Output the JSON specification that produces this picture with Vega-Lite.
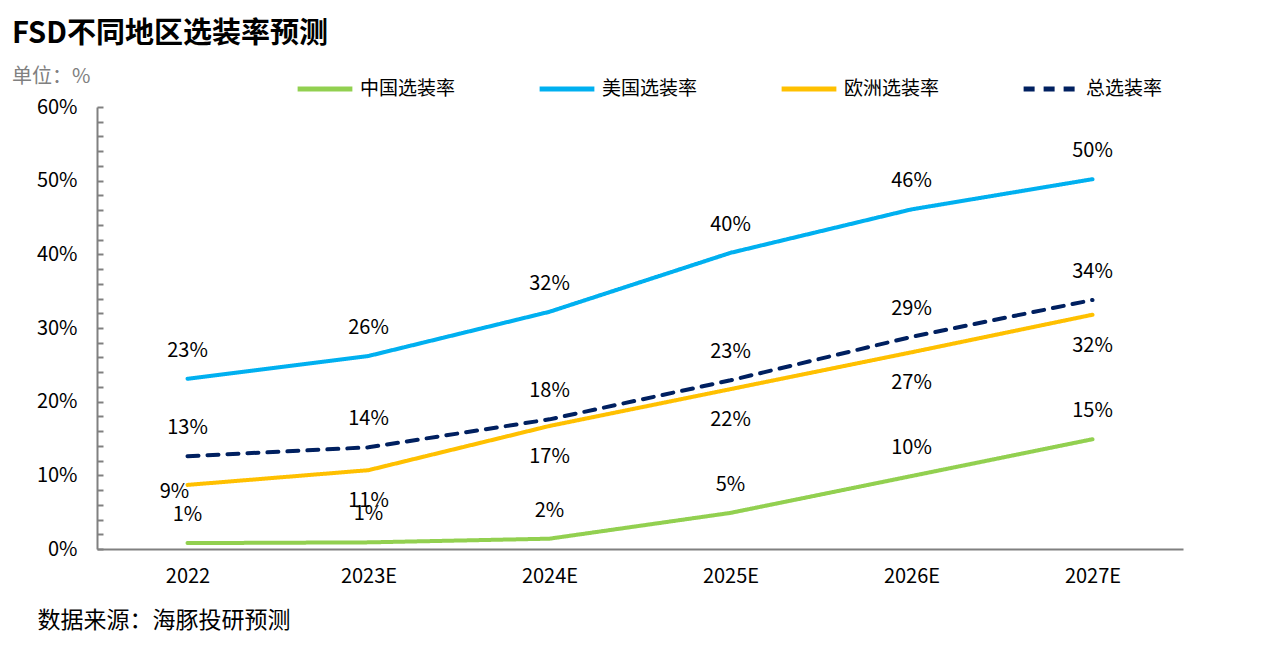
{
  "$schema": "https://vega.github.io/schema/vega-lite/v6.json",
  "autosize": "none",
  "width": 1086,
  "height": 442,
  "padding": {"left": 97, "top": 107, "right": 96, "bottom": 96},
  "background": "white",
  "config": {
    "font": "Noto Sans CJK SC",
    "view": {"stroke": null}
  },
  "title": {
    "text": "FSD不同地区选装率预测",
    "subtitle": "单位：%",
    "anchor": "start",
    "frame": "group",
    "dx": -85,
    "fontSize": 29,
    "fontWeight": "bold",
    "color": "#000000",
    "subtitleFontSize": 20,
    "subtitleColor": "#808080",
    "subtitlePadding": 18,
    "offset": -28
  },
  "data": {
    "values": [
      {"year": "2022", "series": "中国选装率", "value": 0.8, "label": "1%"},
      {"year": "2023E", "series": "中国选装率", "value": 0.9, "label": "1%"},
      {"year": "2024E", "series": "中国选装率", "value": 1.4, "label": "2%"},
      {"year": "2025E", "series": "中国选装率", "value": 4.9, "label": "5%"},
      {"year": "2026E", "series": "中国选装率", "value": 9.9, "label": "10%"},
      {"year": "2027E", "series": "中国选装率", "value": 14.9, "label": "15%"},
      {"year": "2022", "series": "美国选装率", "value": 23.1, "label": "23%"},
      {"year": "2023E", "series": "美国选装率", "value": 26.2, "label": "26%"},
      {"year": "2024E", "series": "美国选装率", "value": 32.2, "label": "32%"},
      {"year": "2025E", "series": "美国选装率", "value": 40.2, "label": "40%"},
      {"year": "2026E", "series": "美国选装率", "value": 46.1, "label": "46%"},
      {"year": "2027E", "series": "美国选装率", "value": 50.2, "label": "50%"},
      {"year": "2022", "series": "欧洲选装率", "value": 8.7, "label": "9%"},
      {"year": "2023E", "series": "欧洲选装率", "value": 10.7, "label": "11%"},
      {"year": "2024E", "series": "欧洲选装率", "value": 16.7, "label": "17%"},
      {"year": "2025E", "series": "欧洲选装率", "value": 21.7, "label": "22%"},
      {"year": "2026E", "series": "欧洲选装率", "value": 26.7, "label": "27%"},
      {"year": "2027E", "series": "欧洲选装率", "value": 31.8, "label": "32%"},
      {"year": "2022", "series": "总选装率", "value": 12.6, "label": "13%"},
      {"year": "2023E", "series": "总选装率", "value": 13.8, "label": "14%"},
      {"year": "2024E", "series": "总选装率", "value": 17.6, "label": "18%"},
      {"year": "2025E", "series": "总选装率", "value": 22.9, "label": "23%"},
      {"year": "2026E", "series": "总选装率", "value": 28.8, "label": "29%"},
      {"year": "2027E", "series": "总选装率", "value": 33.8, "label": "34%"}
    ]
  },
  "encoding": {
    "x": {
      "field": "year",
      "type": "ordinal",
      "sort": null,
      "scale": {"type": "point", "padding": 0.5},
      "axis": {
        "title": "数据来源：海豚投研预测",
        "titleFontSize": 23,
        "titleFontWeight": "normal",
        "titleColor": "#000000",
        "titleAnchor": "start",
        "titleAlign": "left",
        "titleBaseline": "alphabetic",
        "titleX": -60,
        "titleY": 78,
        "labelAngle": 0,
        "labelFontSize": 20,
        "labelColor": "#000000",
        "labelPadding": 17,
        "ticks": false,
        "domainColor": "#808080",
        "domainWidth": 2,
        "grid": false
      }
    },
    "y": {
      "field": "value",
      "type": "quantitative",
      "scale": {"domain": [0, 60], "nice": false},
      "axis": {
        "title": null,
        "values": [0, 2, 4, 6, 8, 10, 12, 14, 16, 18, 20, 22, 24, 26, 28, 30, 32, 34, 36, 38, 40, 42, 44, 46, 48, 50, 52, 54, 56, 58, 60],
        "labelExpr": "datum.value % 10 === 0 ? datum.value + '%' : ''",
        "labelFontSize": 20,
        "labelColor": "#000000",
        "labelPadding": 26,
        "tickSize": -6,
        "tickColor": "#808080",
        "tickWidth": 2,
        "domainColor": "#808080",
        "domainWidth": 2,
        "grid": false
      }
    }
  },
  "layer": [
    {
      "mark": {"type": "line", "strokeWidth": 4, "strokeCap": "round"},
      "encoding": {
        "color": {
          "field": "series",
          "type": "nominal",
          "scale": {
            "domain": ["中国选装率", "美国选装率", "欧洲选装率", "总选装率"],
            "range": ["#92D050", "#00B0F0", "#FFC000", "#002060"]
          },
          "legend": {
            "title": null,
            "orient": "none",
            "legendX": 198,
            "legendY": -48,
            "direction": "horizontal",
            "columns": 4,
            "gridAlign": "all",
            "columnPadding": 73,
            "symbolType": "stroke",
            "symbolSize": 3000,
            "symbolStrokeWidth": 5,
            "labelFontSize": 19,
            "labelColor": "#000000",
            "labelOffset": 5
          }
        },
        "strokeDash": {
          "field": "series",
          "type": "nominal",
          "scale": {
            "domain": ["中国选装率", "美国选装率", "欧洲选装率", "总选装率"],
            "range": [[1, 0], [1, 0], [1, 0], [11, 9]]
          },
          "legend": null
        }
      }
    },
    {
      "transform": [{"filter": "datum.series !== '欧洲选装率'"}],
      "mark": {"type": "text", "dy": -28, "fontSize": 20, "color": "#000000"},
      "encoding": {"text": {"field": "label"}}
    },
    {
      "transform": [{"filter": "datum.series === '欧洲选装率' && datum.year !== '2022'"}],
      "mark": {"type": "text", "dy": 31, "fontSize": 20, "color": "#000000"},
      "encoding": {"text": {"field": "label"}}
    },
    {
      "transform": [{"filter": "datum.series === '欧洲选装率' && datum.year === '2022'"}],
      "mark": {"type": "text", "dy": 7, "dx": -13, "fontSize": 20, "color": "#000000"},
      "encoding": {"text": {"field": "label"}}
    }
  ]
}
